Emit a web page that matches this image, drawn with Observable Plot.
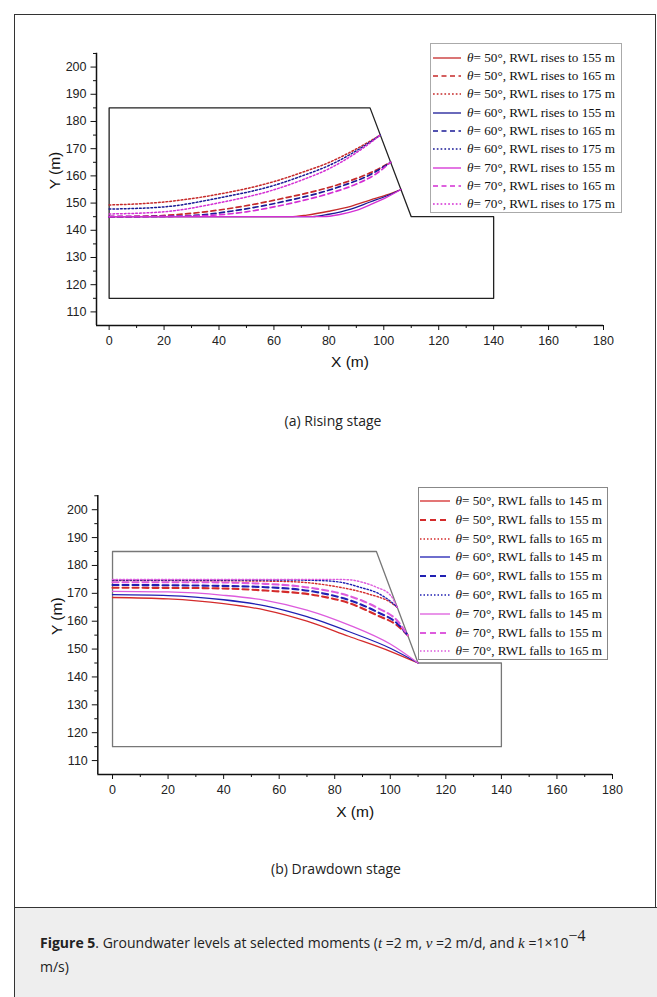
<!DOCTYPE html>
<html><head><meta charset="utf-8">
<script src="https://cdn.jsdelivr.net/npm/d3@7"></script>
<script src="https://cdn.jsdelivr.net/npm/@observablehq/plot@0.6"></script>
<style>
html,body{margin:0;padding:0;background:#fff;}
#page{position:relative;width:657px;height:997px;overflow:hidden;}
#frame{position:absolute;left:14px;top:14px;width:642px;height:1000px;border:1px solid #333;box-sizing:border-box;}
#capbox{position:absolute;left:14px;top:907px;width:643px;height:100px;background:#eeeeee;border-top:1px solid #333;border-left:1px solid #333;box-sizing:border-box;}
.chart{position:absolute;left:0;}
.legend{position:absolute;background:#fff;border:1px solid #aaa;box-sizing:border-box;font-family:"Liberation Serif",serif;font-size:13.2px;color:#111;}
.row{position:absolute;height:16px;display:flex;align-items:center;white-space:nowrap;}
.row svg{display:block;}
.sub{position:absolute;font-family:"Open Sans",sans-serif;font-size:14px;color:#222;transform:translate(-50%,-50%);white-space:nowrap;}
#caption{position:absolute;left:40px;top:931px;font-family:"Open Sans",sans-serif;font-size:14px;line-height:23px;color:#222;white-space:nowrap;}
#caption i{font-family:"Liberation Serif",serif;font-size:15px;}
#caption sup{font-family:"Liberation Serif",serif;font-size:16px;line-height:0;vertical-align:7px;}
</style></head>
<body><div id="page">
<div id="frame"></div>
<div id="capbox"></div>
<div id="top" class="chart" style="top:0px"></div>
<div id="bot" class="chart" style="top:440px"></div>
<div id="legTop" class="legend" style="left:430px;top:43px;width:192px;height:170px;"></div>
<div id="legBot" class="legend" style="left:418px;top:487px;width:190px;height:173px;border:1.5px solid #888;"></div>
<div class="sub" style="left:333px;top:420px">(a) Rising stage</div>
<div class="sub" style="left:336px;top:868px">(b) Drawdown stage</div>
<div id="caption"><b>Figure 5</b>. Groundwater levels at selected moments (<i>t</i> =2 m, <i>v</i> =2 m/d, and <i>k</i> =1×10<sup>−4</sup><br>m/s)</div>
</div>
<script>
// ---------- data ----------
const X_MAJOR = [0,20,40,60,80,100,120,140,160,180];
const X_MINOR = [10,30,50,70,90,110,130,150,170];
const Y_MAJOR = [110,120,130,140,150,160,170,180,190,200];
const Y_MINOR = [115,125,135,145,155,165,175,185,195,205];
const DAM = [[0,115],[0,185],[95,185],[110,145],[140,145],[140,115],[0,115]];

const THETAS = [50,60,70];
const RISE_LEVELS = [155,165,175];
const FALL_LEVELS = [145,155,165];

// Rising stage
const RISE_50_155 = [[0,145],[30,145],[66,145],[72,145.6],[80,147],[88,148.8],[95,151.1],[101,153],[106.25,155]];
const RISE_60_155 = [[0,145],[40,145],[74,145],[80,145.9],[88,147.8],[95,150.4],[101,152.6],[106.25,155]];
const RISE_70_155 = [[0,145],[40,145],[78,145],[84,145.8],[90,147.3],[96,149.8],[101,152.1],[106.25,155]];
const RISE_50_165 = [[0,145],[15,145.2],[25,145.8],[35,146.8],[45,148.2],[55,150],[65,152.1],[75,154.4],[85,157.3],[95,161.1],[102.5,165]];
const RISE_60_165 = [[0,145],[25,145.2],[35,145.8],[45,147.1],[55,148.8],[65,150.9],[75,153.3],[85,156.4],[95,160.4],[102.5,165]];
const RISE_70_165 = [[0,145],[30,145.2],[40,145.7],[50,146.8],[60,148.6],[70,150.8],[80,153.5],[90,157],[97,160.6],[102.5,165]];
const RISE_50_175 = [[0,149.3],[20,150.4],[40,153.3],[60,157.9],[70,161.2],[80,164.9],[90,169.9],[98.75,175]];
const RISE_60_175 = [[0,147.8],[20,148.6],[40,151.9],[60,156.5],[70,159.9],[80,163.8],[90,169.2],[98.75,175]];
const RISE_70_175 = [[0,146],[20,146.8],[40,150.1],[60,154.9],[70,158.4],[80,162.6],[90,168.5],[98.75,175]];

// Drawdown stage
const FALL_50_145 = [[0,168.5],[20,168],[40,166.3],[55,164],[70,160],[85,154.6],[100,149.2],[110,145]];
const FALL_60_145 = [[0,169.5],[20,169.2],[40,167.7],[55,165.5],[70,161.6],[85,156.3],[100,150.3],[110,145]];
const FALL_70_145 = [[0,170.7],[20,170.5],[40,169.3],[55,167.5],[70,164],[85,158.7],[100,151.8],[110,145]];
const FALL_50_155 = [[0,172],[30,171.9],[55,171],[73.7,169.2],[85.7,166.3],[95.3,162.1],[102.5,158.5],[106.25,155]];
const FALL_60_155 = [[0,173],[30,172.8],[55,172.2],[73.7,170.4],[85.7,167.4],[95.3,163.3],[102.5,159.2],[106.25,155]];
const FALL_70_155 = [[0,174],[30,174],[55,173.4],[73.7,171.6],[85.7,168.9],[95.3,164.8],[102.5,160.2],[106.25,155]];
const FALL_50_165 = [[0,174.6],[40,174.5],[60,174.3],[68,174],[80,172.5],[92,169.8],[100,166.8],[102.5,165]];
const FALL_60_165 = [[0,174.8],[60,174.8],[74,174.6],[82,174],[89,172.2],[96,169.8],[100.5,166.8],[102.5,165]];
const FALL_70_165 = [[0,175],[80,175],[86,174.8],[89,174.2],[95,172.2],[100,169.4],[102.5,165]];

// ---------- styles ----------
const RISE_COLORS = {50:"#c62a2a",60:"#1a1a96",70:"#d42ed4"};
const FALL_COLORS = {50:"#d42b2b",60:"#2020b2",70:"#dd5bdd"};
const RISE_DASH = [
  {dash:null, w:1.3},
  {dash:"5,3.5", w:1.7},
  {dash:"1.7,2.1", w:1.5}
];
const FALL_DASH = [
  {dash:null, w:1.3},
  {dash:"6,4", w:2.1},
  {dash:"1.5,2", w:1.4}
];

const riseData = {50:[RISE_50_155,RISE_50_165,RISE_50_175],60:[RISE_60_155,RISE_60_165,RISE_60_175],70:[RISE_70_155,RISE_70_165,RISE_70_175]};
const fallData = {50:[FALL_50_145,FALL_50_155,FALL_50_165],60:[FALL_60_145,FALL_60_155,FALL_60_165],70:[FALL_70_145,FALL_70_155,FALL_70_165]};

function buildSeries(dataMap, colors, dashes, levels, verb) {
  const out = [];
  for (const t of THETAS) {
    levels.forEach((lv, i) => {
      out.push({theta:t, level:lv, pts:dataMap[t][i], color:colors[t], dash:dashes[i].dash, w:dashes[i].w,
        label:`= ${t}°, RWL ${verb} to ${lv} m`});
    });
  }
  return out;
}
const riseSeries = buildSeries(riseData, RISE_COLORS, RISE_DASH, RISE_LEVELS, "rises");
const fallSeries = buildSeries(fallData, FALL_COLORS, FALL_DASH, FALL_LEVELS, "falls");

function chart(cfg) {
  const {series, xDomain, yDomain, mL, mR, mT, mB, h, damStroke, yLabelDx, xLabelDy} = cfg;
  return Plot.plot({
    width: 657, height: h,
    marginLeft: mL, marginRight: mR, marginTop: mT, marginBottom: mB,
    x: {domain: xDomain},
    y: {domain: yDomain},
    style: {background: "transparent", fontFamily: "'Liberation Sans', Arial, sans-serif", fontSize: "12.5px", color: "#222", overflow: "visible"},
    marks: [
      Plot.line(DAM, {x: d => d[0], y: d => d[1], stroke: damStroke, strokeWidth: 1.3}),
      ...series.map(s => Plot.line(s.pts, {x: d => d[0], y: d => d[1], stroke: s.color, strokeWidth: s.w,
        strokeDasharray: s.dash || undefined, curve: "monotone-x"})),
      Plot.ruleY([yDomain[0]], {stroke: "#111", strokeWidth: 1.5}),
      Plot.ruleX([xDomain[0]], {stroke: "#111", strokeWidth: 1.5}),
      Plot.axisX(X_MAJOR, {anchor: "bottom", tickSize: 5, tickPadding: 6, label: null, stroke: "#111"}),
      Plot.axisX(X_MINOR, {anchor: "bottom", tickSize: 3, tickFormat: () => "", label: null, stroke: "#111"}),
      Plot.axisY(Y_MAJOR, {anchor: "left", tickSize: 5.5, tickPadding: 4.5, label: null, stroke: "#111"}),
      Plot.axisY(Y_MINOR, {anchor: "left", tickSize: 3, tickFormat: () => "", label: null, stroke: "#111"}),
      Plot.text(["X (m)"], {text: d => d, frameAnchor: "bottom", dy: xLabelDy, fontSize: 15.5, fill: "#111"}),
      Plot.text(["Y (m)"], {text: d => d, frameAnchor: "left", dx: yLabelDx, rotate: -90, fontSize: 15.5, fill: "#111"})
    ]
  });
}

document.getElementById("top").append(chart({
  series: riseSeries, xDomain: [-4.6, 180], yDomain: [105, 205.1],
  mL: 96, mR: 54, mT: 52.7, mB: 55, h: 380, damStroke: "#222", yLabelDx: -41, xLabelDy: 41
}));
document.getElementById("bot").append(chart({
  series: fallSeries, xDomain: [-5.3, 180], yDomain: [105, 205.1],
  mL: 97.3, mR: 45, mT: 55, mB: 56, h: 390, damStroke: "#777", yLabelDx: -41, xLabelDy: 42
}));

function legend(el, series, rowTop, rowStep, swX, swLen, txtX) {
  series.forEach((s, i) => {
    const row = document.createElement("div");
    row.className = "row";
    row.style.left = swX + "px";
    row.style.top = (rowTop + rowStep * i - 8) + "px";
    const ns = "http://www.w3.org/2000/svg";
    const svg = document.createElementNS(ns, "svg");
    svg.setAttribute("width", swLen); svg.setAttribute("height", 16);
    const ln = document.createElementNS(ns, "line");
    ln.setAttribute("x1", 0); ln.setAttribute("x2", swLen); ln.setAttribute("y1", 8); ln.setAttribute("y2", 8);
    ln.setAttribute("stroke", s.color); ln.setAttribute("stroke-width", s.w);
    if (s.dash) ln.setAttribute("stroke-dasharray", s.dash);
    svg.append(ln);
    row.append(svg);
    const sp = document.createElement("span");
    sp.style.marginLeft = (txtX - swX - swLen) + "px";
    sp.innerHTML = "<i>θ</i>" + s.label;
    row.append(sp);
    el.append(row);
  });
}
legend(document.getElementById("legTop"), riseSeries, 13.7, 18.3, 2, 28, 36);
legend(document.getElementById("legBot"), fallSeries, 13, 18.8, 1, 30, 36.5);
</script>
</body></html>
